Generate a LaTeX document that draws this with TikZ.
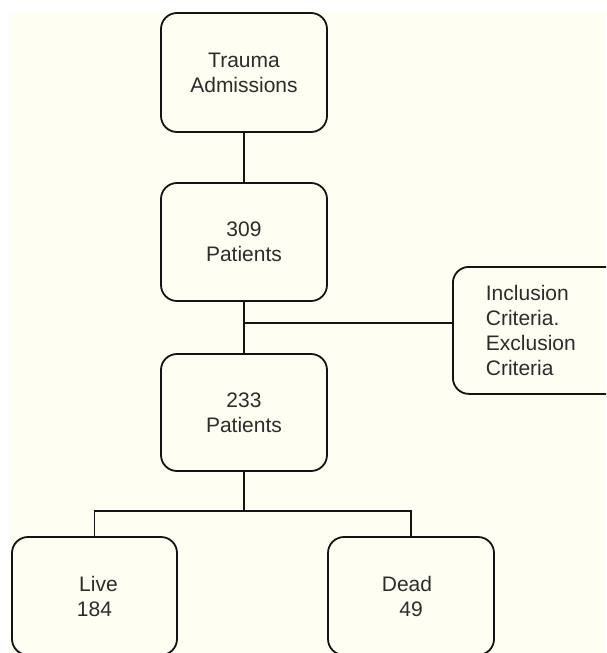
\documentclass[tikz,border=0pt]{standalone}
\usepackage{fontspec}
\setmainfont{Liberation Sans}
\definecolor{cream}{RGB}{254,254,243}
\definecolor{ink}{RGB}{20,20,20}
\tikzset{
  box/.style={draw=ink, line width=1.8pt, rounded corners=16pt, fill=cream,
    minimum width=166pt, inner sep=0pt, align=center, text=ink!90,
    font=\fontsize{21}{25}\selectfont},
  conn/.style={draw=ink, line width=1.8pt}
}
\begin{document}
\begin{tikzpicture}[x=1pt,y=-1pt]
\clip (0,0) rectangle (606,653);
\fill[white] (0,0) rectangle (606,653);
\fill[cream] (9,14) rectangle (606,653);
\node[box, minimum height=119pt] (trauma) at (244,72.5) {Trauma\\Admissions};
\node[box, minimum height=118pt] (p309) at (244,242) {309\\Patients};
\node[box, minimum height=117pt] (p233) at (244,412.5) {233\\Patients};
\node[box, minimum height=127pt, minimum width=0pt, anchor=north west,
      inner xsep=33pt, text width=120pt, align=left] (crit) at (452,266)
      {Inclusion\\Criteria.\\Exclusion\\Criteria};
\node[box, minimum height=118pt, minimum width=165pt] (live) at (94.5,596) {\hspace*{8pt}Live\\184};
\node[box, minimum height=118pt] (dead) at (411,596) {Dead\hspace*{8pt}\\49};
\coordinate (jn) at (244,323);
\coordinate (br) at (244,511);
\draw[conn] (trauma.south) -- (p309.north);
\draw[conn] (p309.south) -- (p233.north);
\draw[conn] (jn) -- (jn -| crit.west);
\draw[conn] (p233.south) -- (br);
\draw[conn] (live.north) |- (br) -| (dead.north);
\end{tikzpicture}
\end{document}
